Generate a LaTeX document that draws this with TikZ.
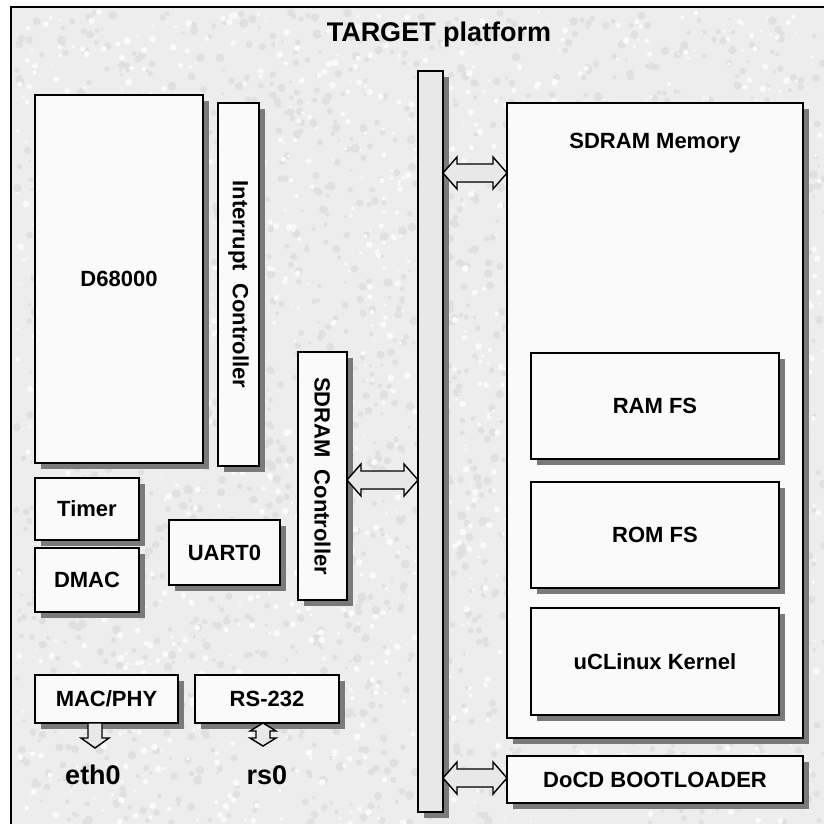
\documentclass[tikz,border=0pt]{standalone}
\usepackage{fontspec}
\setmainfont{Liberation Sans}
\usepackage{graphicx}
\usetikzlibrary{positioning, calc}

\newcommand{\lblfont}{\bfseries\fontsize{22}{26}\selectfont}
\newcommand{\bigfont}{\bfseries\fontsize{27}{32}\selectfont}

% box with its shadow: name, x, y, width, height, text
\newcommand{\blk}[6]{%
  \fill[shd] (#2+6,#3+6) rectangle ++(#4,#5);
  \node[blk, minimum width=#4pt, minimum height=#5pt] (#1) at (#2,#3) {#6};}

% horizontal block arrow, heads on both ends
\newcommand{\hlinkdo}[3]{%
  \path[#3] let \p1=(#1), \p2=(#2) in
    (\x1,\y1) -- (\x1+14pt,\y1+16pt) -- (\x1+14pt,\y1+9pt) -- (\x2-14pt,\y1+9pt)
    -- (\x2-14pt,\y1+16pt) -- (\x2,\y1) -- (\x2-14pt,\y1-16pt) -- (\x2-14pt,\y1-9pt)
    -- (\x1+14pt,\y1-9pt) -- (\x1+14pt,\y1-16pt) -- cycle;}
\newcommand{\hlink}[2]{\hlinkdo{#1}{#2}{linkshd}\hlinkdo{#1}{#2}{link}}
% vertical block arrow, pointing down
\newcommand{\vdowndo}[3]{%
  \path[#3] let \p1=(#1), \p2=(#2) in
    (\x1-7pt,\y1) -- (\x1+7pt,\y1) -- (\x1+7pt,\y2+10pt) -- (\x1+14pt,\y2+10pt)
    -- (\x1,\y2) -- (\x1-14pt,\y2+10pt) -- (\x1-7pt,\y2+10pt) -- cycle;}
\newcommand{\vdown}[2]{\vdowndo{#1}{#2}{linkshd}\vdowndo{#1}{#2}{link}}
% vertical block arrow, heads on both ends
\newcommand{\vbothdo}[3]{%
  \path[#3] let \p1=(#1), \p2=(#2) in
    (\x1,\y1) -- (\x1+13pt,\y1-8pt) -- (\x1+7pt,\y1-8pt) -- (\x1+7pt,\y2+8pt)
    -- (\x1+13pt,\y2+8pt) -- (\x1,\y2) -- (\x1-13pt,\y2+8pt) -- (\x1-7pt,\y2+8pt)
    -- (\x1-7pt,\y1-8pt) -- (\x1-13pt,\y1-8pt) -- cycle;}
\newcommand{\vboth}[2]{\vbothdo{#1}{#2}{linkshd}\vbothdo{#1}{#2}{link}}

\begin{document}
\begin{tikzpicture}[x=1pt, y=-1pt]

        % Styles
        \tikzstyle{frame} = [draw=black, line width=2pt, fill=black!7]
        \tikzstyle{speck} = [fill=black!12]
        \tikzstyle{glint} = [fill=black!2]
        \tikzstyle{shd} = [fill=black!52]
        \tikzstyle{blk} = [draw=black, line width=2pt, fill=black!2,
            inner sep=0pt, outer sep=0pt, anchor=north west, font=\lblfont, align=center]
        \tikzstyle{busbar} = [draw=black, line width=2pt, inner sep=0pt, outer sep=0pt, anchor=north west,
            fill=blue!3!black!9]
        \tikzstyle{link} = [draw=black, line width=1.4pt, fill=black!9]
        \tikzstyle{linkshd} = [fill=black!52, shift={(4,6)}]
        \tikzstyle{port} = [font=\bigfont, inner sep=0pt]

        \useasboundingbox (0,0) rectangle (824,823);
        \clip (0,0) rectangle (824,823);
        \fill[white] (0,0) rectangle (824,823);

        % Platform frame (stone texture)
        \draw[frame] (11,7) rectangle (840,840);
        \pgfmathsetseed{7}
        \foreach \i in {1,...,2200}
            \fill[speck] (16+rnd*808, 12+rnd*811) circle (1.5+rnd*3);
        \foreach \i in {1,...,1600}
            \fill[glint] (16+rnd*808, 12+rnd*811) circle (1+rnd*2.5);
        \node[font=\bigfont] (title) at (439,35) {TARGET platform};

        % --- LEFT: CPU SIDE ---
        \blk{cpu}{35}{95}{168}{368}{D68000}
        \blk{intc}{218}{103}{41}{363}{\rotatebox{-90}{Interrupt~~Controller}}
        \blk{timer}{35}{478}{104}{62}{Timer}
        \blk{dmac}{35}{548}{104}{64}{DMAC}
        \blk{uart}{169}{520}{111}{65}{UART0}
        \blk{sdc}{298}{352}{49}{248}{\rotatebox{-90}{SDRAM~~Controller}}

        % Ports
        \blk{mac}{35}{675}{143}{48}{MAC/PHY}
        \blk{rs}{195}{675}{144}{48}{RS-232}
        \node[port] (eth) at (93,775) {eth0};
        \node[port] (rsz) at (267,775) {rs0};

        % --- MIDDLE: BUS ---
        \fill[shd] (424,77) rectangle ++(25,741);
        \node[busbar, minimum width=25pt, minimum height=741pt] (bus) at (418,71) {};

        % --- RIGHT: MEMORY ---
        \blk{mem}{507}{103}{296}{635}{}
        \node[font=\lblfont, inner sep=0pt, below=30pt of mem.north] (memlbl) {SDRAM Memory};
        \blk{ramfs}{531}{353}{248}{106}{RAM FS}
        \blk{romfs}{531}{482}{248}{106}{ROM FS}
        \blk{kernel}{531}{608}{248}{107}{uCLinux Kernel}
        \blk{docd}{507}{756}{296}{47}{DoCD BOOTLOADER}

        % --- LINKS ---
        \coordinate (memrow) at (0,173);
        \coordinate (sdcrow) at (0,480);
        \coordinate (docdrow) at (0,778);
        \coordinate (ethtip) at (95,748);
        \coordinate (rstip) at (263,746);

        \hlink{bus.east |- memrow}{mem.west |- memrow}
        \hlink{sdc.east |- sdcrow}{bus.west |- sdcrow}
        \hlink{bus.east |- docdrow}{docd.west |- docdrow}
        \vdown{mac.south -| ethtip}{ethtip}
        \vboth{rs.south -| rstip}{rstip}

\end{tikzpicture}
\end{document}
